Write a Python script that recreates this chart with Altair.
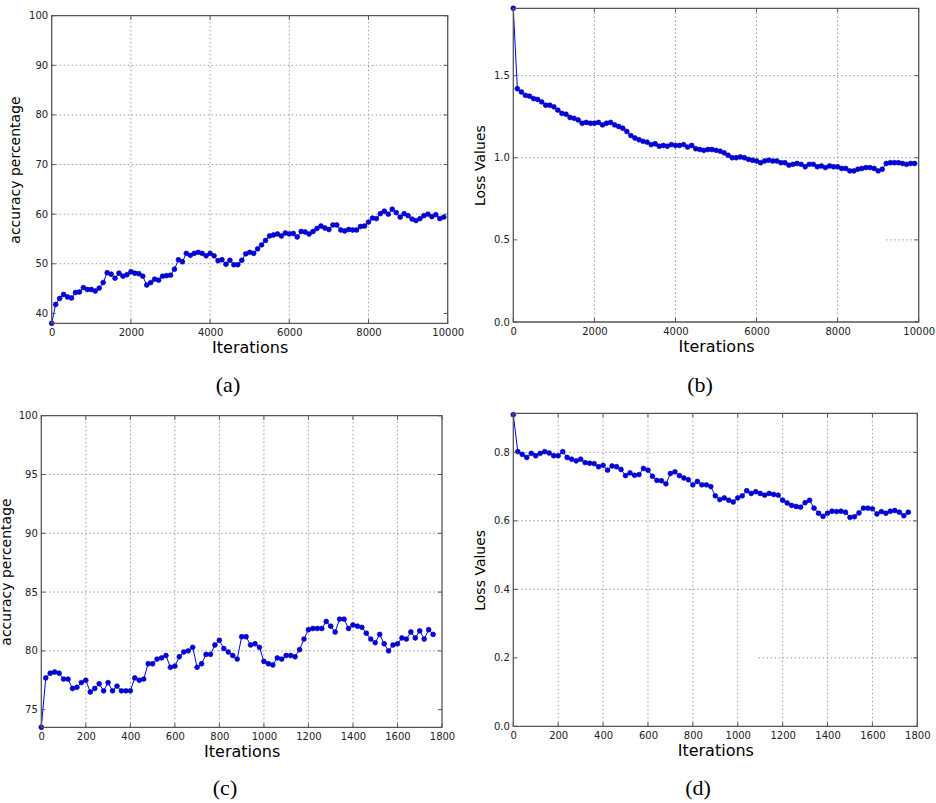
import altair as alt
import pandas as pd

# ---------------- data ----------------
ITER_AB = list(range(0, 10000, 100))
ACC_A = [38.0, 41.8, 43.0, 43.8, 43.3, 43.1, 44.2, 44.3, 45.2, 44.8,
         44.8, 44.5, 45.1, 46.2, 48.2, 47.9, 47.1, 48.1, 47.5, 47.8,
         48.4, 48.1, 48.0, 47.5, 45.7, 46.2, 46.9, 46.7, 47.5, 47.6,
         47.7, 48.9, 50.8, 50.4, 52.1, 51.7, 52.1, 52.3, 52.1, 51.6,
         52.1, 51.6, 50.6, 50.8, 49.9, 50.7, 49.8, 49.8, 50.7, 52.0,
         52.3, 52.1, 53.0, 53.8, 54.7, 55.6, 55.8, 56.0, 55.6, 56.2,
         56.0, 56.1, 55.4, 56.5, 56.4, 56.0, 56.5, 57.1, 57.6, 57.2,
         56.9, 57.8, 57.8, 56.8, 56.6, 56.9, 56.8, 56.8, 57.5, 57.6,
         58.4, 59.2, 59.1, 60.1, 60.6, 60.0, 61.0, 60.3, 59.4, 60.1,
         59.7, 59.0, 58.7, 59.1, 59.7, 60.0, 59.5, 59.9, 59.1, 59.4]
LOSS_B = [1.91, 1.42, 1.40, 1.38, 1.375, 1.36, 1.355, 1.34, 1.32, 1.32,
          1.31, 1.29, 1.27, 1.265, 1.245, 1.24, 1.23, 1.21, 1.215, 1.21,
          1.21, 1.215, 1.20, 1.21, 1.215, 1.20, 1.19, 1.18, 1.16, 1.135,
          1.12, 1.11, 1.10, 1.095, 1.08, 1.085, 1.07, 1.075, 1.07, 1.08,
          1.075, 1.075, 1.08, 1.065, 1.075, 1.055, 1.05, 1.045, 1.05, 1.05,
          1.045, 1.04, 1.03, 1.015, 1.0, 1.0, 1.005, 1.0, 0.99, 0.985,
          0.98, 0.97, 0.98, 0.985, 0.98, 0.98, 0.97, 0.97, 0.955, 0.96,
          0.965, 0.96, 0.945, 0.96, 0.96, 0.945, 0.95, 0.94, 0.95, 0.945,
          0.945, 0.935, 0.935, 0.92, 0.92, 0.93, 0.935, 0.94, 0.94, 0.935,
          0.92, 0.93, 0.965, 0.97, 0.97, 0.97, 0.965, 0.96, 0.965, 0.965]

ITER_CD = list(range(0, 1780, 20))
ACC_C = [73.5, 77.7, 78.1, 78.2, 78.1, 77.6, 77.6, 76.8, 76.9, 77.3,
         77.5, 76.5, 76.8, 77.2, 76.6, 77.3, 76.6, 77.0, 76.6, 76.6,
         76.6, 77.7, 77.5, 77.6, 78.9, 78.9, 79.3, 79.4, 79.6, 78.6,
         78.7, 79.5, 79.9, 80.0, 80.3, 78.6, 78.9, 79.7, 79.7, 80.5,
         80.9, 80.2, 79.9, 79.6, 79.3, 81.2, 81.2, 80.5, 80.6, 80.3,
         79.1, 78.9, 78.8, 79.4, 79.3, 79.6, 79.6, 79.5, 80.1, 81.0,
         81.8, 81.9, 81.9, 81.9, 82.5, 82.1, 81.6, 82.7, 82.7, 81.9,
         82.2, 82.1, 82.0, 81.5, 81.0, 80.7, 81.4, 80.6, 80.0, 80.5,
         80.6, 81.1, 81.0, 81.6, 81.1, 81.7, 81.0, 81.8, 81.4]
LOSS_D = [0.91, 0.802, 0.794, 0.785, 0.797, 0.79, 0.797, 0.802, 0.798, 0.79,
          0.79, 0.802, 0.785, 0.78, 0.775, 0.78, 0.77, 0.768, 0.767, 0.758,
          0.762, 0.748, 0.76, 0.758, 0.75, 0.732, 0.74, 0.733, 0.735, 0.753,
          0.748, 0.73, 0.718, 0.717, 0.708, 0.738, 0.743, 0.732, 0.725, 0.72,
          0.705, 0.715, 0.705, 0.705, 0.70, 0.673, 0.662, 0.667, 0.66, 0.655,
          0.667, 0.673, 0.688, 0.68, 0.685, 0.68, 0.675, 0.68, 0.677, 0.675,
          0.66, 0.652, 0.645, 0.642, 0.64, 0.653, 0.66, 0.637, 0.622, 0.613,
          0.622, 0.628, 0.627, 0.628, 0.625, 0.61, 0.612, 0.623, 0.637, 0.637,
          0.635, 0.62, 0.627, 0.622, 0.628, 0.63, 0.625, 0.615, 0.625]

XTICKS_AB = [0, 2000, 4000, 6000, 8000, 10000]
XTICKS_CD = [0, 200, 400, 600, 800, 1000, 1200, 1400, 1600, 1800]
YTICKS_A = [40, 50, 60, 70, 80, 90, 100]
YTICKS_B = [0.0, 0.5, 1.0, 1.5]
YTICKS_C = [75, 80, 85, 90, 95, 100]
YTICKS_D = [0.0, 0.2, 0.4, 0.6, 0.8]

# visible grid lines (value, start, end along the other axis)
HGRID_A = [(50, 0, 10000), (60, 0, 10000), (70, 0, 10000), (80, 0, 10000), (90, 0, 10000)]
VGRID_A = [2000, 4000, 6000, 8000]
HGRID_B = [(0.5, 9200, 10000), (1.0, 0, 10000), (1.5, 0, 10000)]
VGRID_B = [2000, 4000, 6000, 8000]
HGRID_C = [(80, 0, 1800), (85, 0, 1800), (90, 0, 1800), (95, 0, 1800)]
VGRID_C = [200, 400, 600, 800, 1000, 1200, 1400, 1600]
HGRID_D = [(0.2, 1093, 1800), (0.4, 0, 1800), (0.6, 0, 1800), (0.8, 0, 1800)]
VGRID_D = [200, 400, 600, 800, 1000, 1200, 1400, 1600]

CAPTIONS = ["(a)", "(b)", "(c)", "(d)"]

W, H = 936, 803
FONT = "DejaVu Sans"
LINE_BLUE = "#0000ff"
FRAME = "#555555"


def panel(iters, vals, xdom, ydom, xrange, yrange, xticks, yticks, yfmt,
          ytitle, hgrid, vgrid, ytitle_pad):
    sx = alt.Scale(domain=xdom, range=xrange, nice=False, zero=False)
    sy = alt.Scale(domain=ydom, range=yrange, nice=False, zero=False)
    df = pd.DataFrame({"it": iters, "v": vals})

    xaxis = alt.Axis(orient="bottom", offset=yrange[0] - H, values=xticks,
                     format="d", title="Iterations", grid=False, domain=False,
                     ticks=False, labelPadding=4, labelFlush=False,
                     labelOverlap=False, labelFont=FONT, labelFontSize=10,
                     labelColor="#222222", titleFont=FONT, titleFontSize=16,
                     titleFontWeight="normal", titleColor="#000000",
                     titlePadding=2)
    yaxis = alt.Axis(orient="left", offset=-xrange[0], values=yticks,
                     format=yfmt, title=ytitle, grid=False, domain=False,
                     ticks=False, labelPadding=4, labelFlush=False,
                     labelOverlap=False, labelFont=FONT, labelFontSize=10,
                     labelColor="#222222", titleFont=FONT, titleFontSize=14,
                     titleFontWeight="normal", titleColor="#000000",
                     titlePadding=ytitle_pad)

    def X(f):
        return alt.X(f, scale=sx, axis=xaxis)

    def Y(f):
        return alt.Y(f, scale=sy, axis=yaxis)

    hg = pd.DataFrame({"gy": [g[0] for g in hgrid],
                       "gx0": [g[1] for g in hgrid],
                       "gx1": [g[2] for g in hgrid]})
    vg = pd.DataFrame({"gx": vgrid, "gy0": [ydom[0]] * len(vgrid),
                       "gy1": [ydom[1]] * len(vgrid)})
    grid_style = dict(color="#9a9a9a", strokeWidth=1, strokeDash=[1.5, 2.5])

    hrules = alt.Chart(hg).mark_rule(**grid_style).encode(
        y=Y("gy:Q"), x=X("gx0:Q"), x2="gx1:Q")
    vrules = alt.Chart(vg).mark_rule(**grid_style).encode(
        x=X("gx:Q"), y=Y("gy0:Q"), y2="gy1:Q")
    line = alt.Chart(df).mark_line(color=LINE_BLUE, strokeWidth=1).encode(
        x=X("it:Q"), y=Y("v:Q"))
    pts = alt.Chart(df).mark_circle(size=24, color="#0000ee", opacity=1,
                                    stroke="#000088", strokeWidth=0.6).encode(
        x=X("it:Q"), y=Y("v:Q"))
    fr = pd.DataFrame({"x0": [xdom[0]], "x1": [xdom[1]],
                       "y0": [ydom[0]], "y1": [ydom[1]]})
    frame = alt.Chart(fr).mark_rect(filled=False, stroke=FRAME,
                                    strokeWidth=1.3).encode(
        x=X("x0:Q"), x2="x1:Q", y=Y("y0:Q"), y2="y1:Q")

    # inward tick marks on all four sides
    yt = pd.DataFrame({"t": yticks, "lo": [xdom[0]] * len(yticks),
                       "hi": [xdom[1]] * len(yticks)})
    xt = pd.DataFrame({"t": xticks, "lo": [ydom[0]] * len(xticks),
                       "hi": [ydom[1]] * len(xticks)})
    tick_style = dict(color=FRAME, size=4, thickness=1, opacity=1)
    yt_left = alt.Chart(yt).mark_tick(orient="horizontal", xOffset=2,
                                      **tick_style).encode(
        y=Y("t:Q"), x=X("lo:Q"))
    yt_right = alt.Chart(yt).mark_tick(orient="horizontal", xOffset=-2,
                                       **tick_style).encode(
        y=Y("t:Q"), x=X("hi:Q"))
    xt_bottom = alt.Chart(xt).mark_tick(orient="vertical", yOffset=-2,
                                        **tick_style).encode(
        x=X("t:Q"), y=Y("lo:Q"))
    xt_top = alt.Chart(xt).mark_tick(orient="vertical", yOffset=2,
                                     **tick_style).encode(
        x=X("t:Q"), y=Y("hi:Q"))
    return alt.layer(hrules, vrules, line, pts, frame,
                     yt_left, yt_right, xt_bottom, xt_top)


pa = panel(ITER_AB, ACC_A, [0, 10000], [38, 100], [51.7, 447.7], [323.3, 15.7],
           XTICKS_AB, YTICKS_A, "d", "accuracy percentage", HGRID_A, VGRID_A, 6.5)
pb = panel(ITER_AB, LOSS_B, [0, 10000], [0, 1.91], [513.3, 918.7], [322, 8.3],
           XTICKS_AB, YTICKS_B, ".1f", "Loss Values", HGRID_B, VGRID_B, 5.5)
pc = panel(ITER_CD, ACC_C, [0, 1800], [73.5, 100], [41.3, 442], [727.3, 415.7],
           XTICKS_CD, YTICKS_C, "d", "accuracy percentage", HGRID_C, VGRID_C, 4.5)
pd_ = panel(ITER_CD, LOSS_D, [0, 1800], [0, 0.914], [513.3, 917.3], [726.3, 413.3],
            XTICKS_CD, YTICKS_D, ".1f", "Loss Values", HGRID_D, VGRID_D, 5.5)

cap_pos = [(228, 385), (700, 385), (225, 788), (698, 788)]
caps = []
for text, (cx, cy) in zip(CAPTIONS, cap_pos):
    caps.append(
        alt.Chart(pd.DataFrame({"caption": [text]})).mark_text(
            font="Liberation Serif", fontSize=22, color="#000000",
            align="center", baseline="middle").encode(
            text="caption:N", x=alt.value(cx), y=alt.value(cy)))

chart = alt.layer(pa, pb, pc, pd_, *caps).resolve_scale(
    x="independent", y="independent"
).properties(
    width=W, height=H, autosize="none", padding=0,
    background="#ffffff"
).configure_view(stroke=None)

chart.save("out.html", embed_options={"renderer": "svg", "actions": False})
